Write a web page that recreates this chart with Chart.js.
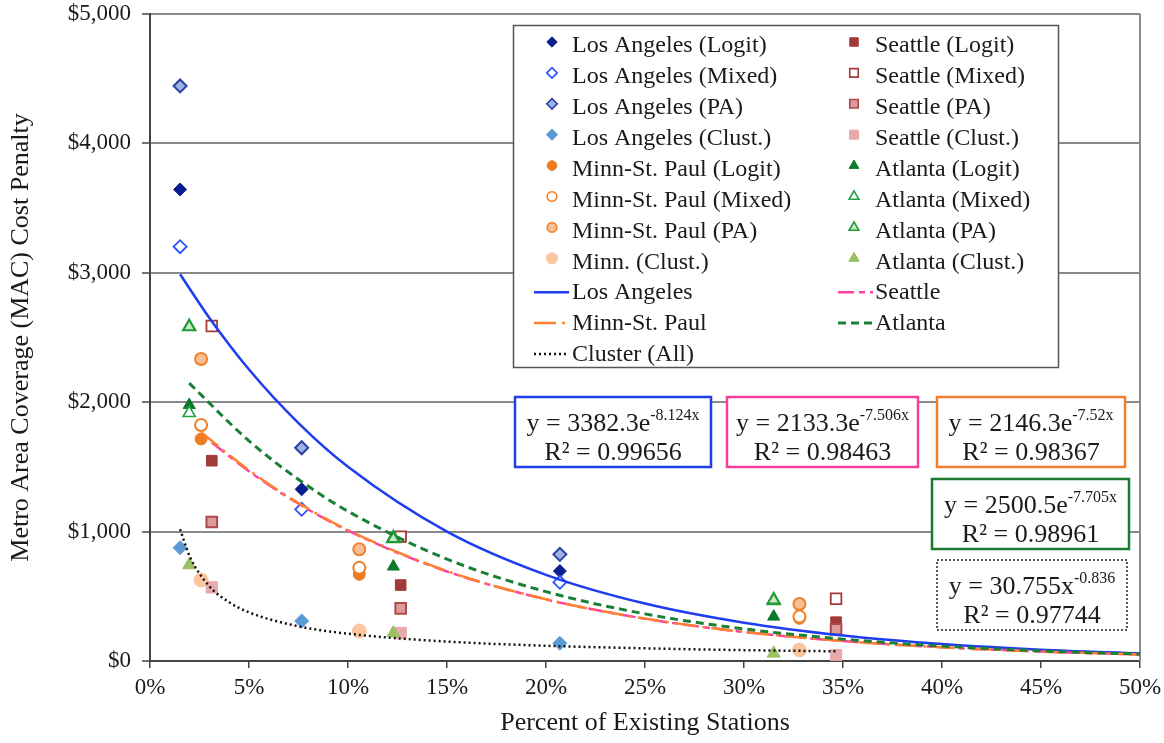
<!DOCTYPE html>
<html>
<head>
<meta charset="utf-8">
<script src="https://cdn.jsdelivr.net/npm/chart.js@4.4.0/dist/chart.umd.min.js"></script>
<style>
html,body{margin:0;padding:0;background:#fff;}
#wrap{width:1164px;height:743px;position:relative;}
</style>
</head>
<body>
<div id="wrap"><canvas id="c" width="1164" height="743"></canvas></div>
<script>
// ---------- tick labels ----------
const X_TICKS = [0, 0.05, 0.10, 0.15, 0.20, 0.25, 0.30, 0.35, 0.40, 0.45, 0.50];
const Y_TICKS = [0, 1000, 2000, 3000, 4000, 5000];

// ---------- observed points (x = share of existing stations) ----------
const laX      = [0.0152, 0.0766, 0.207];
const laLogit  = [3644, 1327, 695];
const laMixed  = [3202, 1172, 608];
const laPA     = [4444, 1648, 824];
const laClust  = [876, 309, 137];

const minnX     = [0.0258, 0.1057, 0.328];
const minnLogit = [1716, 670, 330];
const minnMixed = [1824, 720, 343];
const minnPA    = [2334, 863, 440];
const minnClust = [626, 232, 85];

const seaX     = [0.0312, 0.1266, 0.3465];
const seaLogit = [1548, 587, 300];
const seaMixed = [2589, 961, 481];
const seaPA    = [1074, 407, 245];
const seaClust = [569, 216, 46];

const atlX     = [0.0198, 0.1229, 0.315];
const atlLogit = [1978, 730, 343];
const atlMixed = [1916, 955, 465];
const atlPA    = [2583, 945, 471];
const atlClust = [742, 216, 59];

// ---------- trendlines ----------
const laFitX  = [0.0152, 0.03, 0.05, 0.075, 0.10, 0.15, 0.20, 0.25, 0.30, 0.35, 0.40, 0.45, 0.50];
const laFitY  = [2989, 2651, 2253, 1839, 1501, 1000, 666, 444, 296, 197, 131, 87, 58];
const seaFitX = [0.0312, 0.05, 0.075, 0.10, 0.15, 0.20, 0.25, 0.30, 0.35, 0.40, 0.45, 0.50];
const seaFitY = [1689, 1466, 1215, 1007, 692, 476, 327, 224, 154, 106, 73, 50];
const minnFitX = [0.0258, 0.05, 0.075, 0.10, 0.15, 0.20, 0.25, 0.30, 0.35, 0.40, 0.45, 0.50];
const minnFitY = [1768, 1474, 1221, 1012, 695, 477, 328, 225, 154, 106, 73, 50];
const atlFitX = [0.0198, 0.05, 0.075, 0.10, 0.15, 0.20, 0.25, 0.30, 0.35, 0.40, 0.45, 0.50];
const atlFitY = [2147, 1701, 1403, 1157, 787, 536, 364, 248, 169, 115, 78, 53];
const cluFitX = [0.0152, 0.02, 0.03, 0.04, 0.05, 0.075, 0.10, 0.15, 0.20, 0.25, 0.30, 0.3465];
const cluFitY = [1018, 810, 577, 454, 376, 268, 211, 150, 118, 98, 84, 75];

// ---------- equation labels ----------
const eqBase = ['y = 3382.3e', 'y = 2133.3e', 'y = 2146.3e', 'y = 2500.5e', 'y = 30.755x'];
const eqSup  = ['-8.124x', '-7.506x', '-7.52x', '-7.705x', '-0.836'];
const eqR2   = ['R² = 0.99656', 'R² = 0.98463', 'R² = 0.98367', 'R² = 0.98961', 'R² = 0.97744'];

const SERIF = '"Liberation Serif", "DejaVu Serif", serif';
const TXT = '#1a1a1a';

function pts(xs, ys) { return xs.map((x, i) => ({x: x, y: ys[i]})); }

function pointSet(label, xs, ys, style, radius, fill, border, bw, order) {
  return {label, data: pts(xs, ys), showLine: false, pointStyle: style, pointRadius: radius,
    pointBackgroundColor: fill, pointBorderColor: border, pointBorderWidth: bw,
    backgroundColor: fill, borderColor: border, pointHoverRadius: radius, order};
}
function lineSet(label, xs, ys, color, width, dash, order) {
  return {label, data: pts(xs, ys), showLine: true, pointRadius: 0, pointHoverRadius: 0,
    borderColor: color, backgroundColor: color, borderWidth: width, borderDash: dash,
    cubicInterpolationMode: 'monotone', fill: false, order, isLine: true};
}

const datasets = [
  pointSet('Los Angeles (Logit)', laX, laLogit, 'rectRot', 6.5, '#0a1f8f', '#0a1f8f', 1, 120),
  pointSet('Los Angeles (Mixed)', laX, laMixed, 'rectRot', 6.5, '#ffffff', '#2a4fff', 1.8, 119),
  pointSet('Los Angeles (PA)', laX, laPA, 'rectRot', 6.5, '#9db4e0', '#2a40a8', 2, 118),
  pointSet('Los Angeles (Clust.)', laX, laClust, 'rectRot', 7, '#5a9ad5', '#5a9ad5', 1, 117),
  pointSet('Minn-St. Paul (Logit)', minnX, minnLogit, 'circle', 6, '#ee7d22', '#ee7d22', 1, 116),
  pointSet('Minn-St. Paul (Mixed)', minnX, minnMixed, 'circle', 6, '#ffffff', '#f07d22', 2, 115),
  pointSet('Minn-St. Paul (PA)', minnX, minnPA, 'circle', 6, '#f8bf94', '#ee8030', 2, 114),
  pointSet('Minn. (Clust.)', minnX, minnClust, 'circle', 7, '#fac7a0', '#fac7a0', 1, 113),
  pointSet('Seattle (Logit)', seaX, seaLogit, 'rect', 7.5, '#a33a3a', '#a33a3a', 1, 112),
  pointSet('Seattle (Mixed)', seaX, seaMixed, 'rect', 7.5, '#ffffff', '#a33a3a', 1.8, 111),
  pointSet('Seattle (PA)', seaX, seaPA, 'rect', 7.5, '#dc9c9c', '#b04848', 2, 110),
  pointSet('Seattle (Clust.)', seaX, seaClust, 'rect', 8, '#e8aaaa', '#e8aaaa', 1, 109),
  pointSet('Atlanta (Logit)', atlX, atlLogit, 'triangle', 7, '#0b7a2a', '#0b7a2a', 1, 108),
  pointSet('Atlanta (Mixed)', atlX, atlMixed, 'triangle', 7, '#ffffff', '#23a040', 1.6, 107),
  pointSet('Atlanta (PA)', atlX, atlPA, 'triangle', 7, '#cde8c8', '#1f9a35', 2.2, 106),
  pointSet('Atlanta (Clust.)', atlX, atlClust, 'triangle', 7.5, '#9cc060', '#9cc060', 1, 105),
  lineSet('Los Angeles', laFitX, laFitY, '#1e3cf0', 2.5, [], 4),
  lineSet('Seattle', seaFitX, seaFitY, '#ff40a0', 2.5, [16, 5, 6, 5], 3),
  lineSet('Minn-St. Paul', minnFitX, minnFitY, '#ff8030', 2.5, [22, 6, 3, 6], 2),
  lineSet('Atlanta', atlFitX, atlFitY, '#1a8035', 3, [8, 5], 1),
  lineSet('Cluster (All)', cluFitX, cluFitY, '#111111', 2.5, [2, 3], 0)
];

// legend layout: indexes into datasets
const legendCol1 = [0, 1, 2, 3, 4, 5, 6, 7, 16, 18, 20];
const legendCol2 = [8, 9, 10, 11, 12, 13, 14, 15, 17, 19];

const legendPlugin = {
  id: 'customLegend',
  afterDraw(chart) {
    const ctx = chart.ctx;
    ctx.save();
    ctx.fillStyle = '#ffffff';
    ctx.fillRect(513, 25, 545, 342);
    ctx.strokeStyle = '#555555';
    ctx.lineWidth = 1.5;
    ctx.setLineDash([]);
    ctx.strokeRect(513.5, 25.5, 545, 342);
    const cols = [{items: legendCol1, mx: 552, lx0: 534, lx1: 569, tx: 572},
                  {items: legendCol2, mx: 854, lx0: 838, lx1: 873, tx: 875}];
    ctx.font = '24px ' + SERIF;
    ctx.textBaseline = 'middle';
    ctx.textAlign = 'left';
    cols.forEach(col => {
      col.items.forEach((di, r) => {
        const ds = chart.data.datasets[di];
        const y = 45 + r * 30.9;
        if (ds.isLine) {
          ctx.save();
          ctx.strokeStyle = ds.borderColor;
          ctx.lineWidth = ds.borderWidth;
          ctx.setLineDash(ds.borderDash);
          ctx.beginPath();
          ctx.moveTo(col.lx0, y);
          ctx.lineTo(col.lx1, y);
          ctx.stroke();
          ctx.restore();
        } else {
          ctx.save();
          ctx.fillStyle = ds.pointBackgroundColor;
          ctx.strokeStyle = ds.pointBorderColor;
          ctx.lineWidth = Math.min(ds.pointBorderWidth, 1.6);
          ctx.setLineDash([]);
          Chart.helpers.drawPoint(ctx, {pointStyle: ds.pointStyle, radius: ds.pointRadius * 0.8,
            rotation: 0, borderWidth: ctx.lineWidth}, col.mx, y - 3);
          ctx.restore();
        }
        ctx.fillStyle = TXT;
        ctx.fillText(ds.label, col.tx, y + 1);
      });
    });
    ctx.restore();
  }
};

const eqBoxes = [
  {x: 515, y: 397, w: 196, h: 70, color: '#1f3fe8', dash: [], bw: 2.5},
  {x: 727, y: 397, w: 191, h: 70, color: '#f0409a', dash: [], bw: 2.5},
  {x: 937, y: 397, w: 188, h: 70, color: '#f08030', dash: [], bw: 2.5},
  {x: 932, y: 479, w: 197, h: 70, color: '#1a7a30', dash: [], bw: 2.5},
  {x: 937, y: 560, w: 190, h: 70, color: '#222222', dash: [2, 2], bw: 1.5}
];

const eqPlugin = {
  id: 'equations',
  afterDraw(chart) {
    const ctx = chart.ctx;
    ctx.save();
    eqBoxes.forEach((b, i) => {
      ctx.fillStyle = '#ffffff';
      ctx.fillRect(b.x, b.y, b.w, b.h);
      ctx.strokeStyle = b.color;
      ctx.lineWidth = b.bw;
      ctx.setLineDash(b.dash);
      ctx.strokeRect(b.x, b.y, b.w, b.h);
      ctx.setLineDash([]);
      ctx.fillStyle = TXT;
      ctx.textBaseline = 'alphabetic';
      ctx.textAlign = 'left';
      ctx.font = '26px ' + SERIF;
      const wb = ctx.measureText(eqBase[i]).width;
      ctx.font = '16px ' + SERIF;
      const ws = ctx.measureText(eqSup[i]).width;
      const x0 = b.x + (b.w - wb - ws) / 2;
      const base1 = b.y + 34;
      ctx.font = '26px ' + SERIF;
      ctx.fillText(eqBase[i], x0, base1);
      ctx.font = '16px ' + SERIF;
      ctx.fillText(eqSup[i], x0 + wb, base1 - 11);
      ctx.font = '26px ' + SERIF;
      ctx.textAlign = 'center';
      ctx.fillText(eqR2[i], b.x + b.w / 2, b.y + 63);
    });
    ctx.restore();
  }
};

const framePlugin = {
  id: 'frame',
  beforeDatasetsDraw(chart) {
    const a = chart.chartArea, ctx = chart.ctx;
    ctx.save();
    ctx.strokeStyle = '#8a8a8a';
    ctx.lineWidth = 2;
    ctx.beginPath();
    ctx.moveTo(a.right, a.top);
    ctx.lineTo(a.right, a.bottom);
    ctx.stroke();
    ctx.restore();
  }
};

new Chart(document.getElementById('c'), {
  type: 'scatter',
  data: {datasets},
  options: {
    responsive: false,
    animation: false,
    events: [],
    layout: {padding: {top: 14, right: 24, left: 0, bottom: 0}},
    plugins: {legend: {display: false}, tooltip: {enabled: false}},
    scales: {
      x: {
        type: 'linear', min: 0, max: 0.5,
        afterBuildTicks: s => { s.ticks = X_TICKS.map(v => ({value: v})); },
        afterFit: s => { s.height = 82; s.paddingLeft = 0; s.paddingRight = 0; },
        ticks: {callback: v => Math.round(v * 100) + '%', font: {family: SERIF, size: 23},
          color: TXT, padding: 6, maxRotation: 0, autoSkip: false},
        grid: {drawOnChartArea: false, tickLength: 7, tickColor: '#444', lineWidth: 1.5},
        border: {color: '#444', width: 2},
        title: {display: true, text: 'Percent of Existing Stations', font: {family: SERIF, size: 26},
          color: TXT, padding: {top: 0, bottom: 4}}
      },
      y: {
        type: 'linear', min: 0, max: 5000,
        afterBuildTicks: s => { s.ticks = Y_TICKS.map(v => ({value: v})); },
        afterFit: s => { s.width = 150; s.paddingTop = 0; s.paddingBottom = 0; },
        ticks: {callback: v => '$' + v.toLocaleString('en-US'), font: {family: SERIF, size: 23},
          color: TXT, padding: 11},
        grid: {color: c => (c.tick && c.tick.value === 0) ? 'rgba(0,0,0,0)' : '#8a8a8a',
          lineWidth: 2, tickLength: 8, tickColor: '#444', tickWidth: 1.5},
        border: {color: '#444', width: 2},
        title: {display: true, text: 'Metro Area Coverage (MAC) Cost Penalty',
          font: {family: SERIF, size: 26}, color: TXT, padding: {top: 6, bottom: 0}}
      }
    }
  },
  plugins: [framePlugin, legendPlugin, eqPlugin]
});
</script>
</body>
</html>
